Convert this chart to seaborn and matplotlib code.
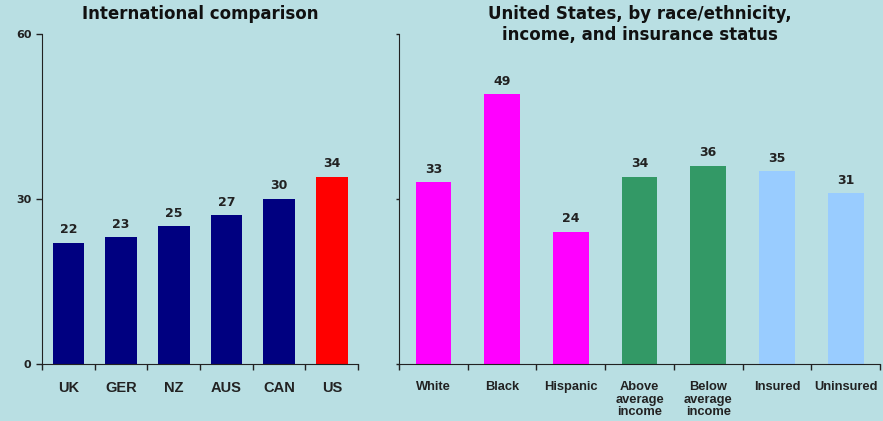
import pandas as pd
import seaborn as sns
import matplotlib.pyplot as plt

# data
intl_countries = ['UK', 'GER', 'NZ', 'AUS', 'CAN', 'US']
intl_values = [22, 23, 25, 27, 30, 34]
intl_colors = ['#000080', '#000080', '#000080', '#000080', '#000080', '#FF0000']

us_groups = ['White', 'Black', 'Hispanic', 'Above\naverage\nincome',
             'Below\naverage\nincome', 'Insured', 'Uninsured']
us_values = [33, 49, 24, 34, 36, 35, 31]
us_colors = ['#FF00FF', '#FF00FF', '#FF00FF', '#339966', '#339966', '#99CCFF', '#99CCFF']

y_ticks = [0, 30, 60]

bg = '#B9DFE3'
sns.set_style('ticks')
plt.rcParams['font.family'] = ['Liberation Sans', 'DejaVu Sans']
plt.rcParams['axes.edgecolor'] = '#222222'

fig = plt.figure(figsize=(8.83, 4.21), dpi=100, facecolor=bg)
ax1 = fig.add_axes([0.0476, 0.1354, 0.358, 0.784])
ax2 = fig.add_axes([0.4519, 0.1354, 0.5447, 0.784])


def draw_panel(ax, cats, vals, colors, width, label_size):
    df = pd.DataFrame({'cat': cats, 'val': vals})
    sns.barplot(data=df, x='cat', y='val', hue='cat', palette=colors,
                width=width, legend=False, saturation=1, ax=ax, linewidth=0)
    ax.set_facecolor(bg)
    ax.set_ylim(0, 60)
    ax.set_xlim(-0.5, len(cats) - 0.5)
    ax.set_yticks(y_ticks)
    ax.set_xlabel('')
    ax.set_ylabel('')
    ax.set_xticks(range(len(cats)))
    ax.set_xticklabels(cats, fontsize=label_size, fontweight='bold',
                       color='#222222', linespacing=1.1)
    ax.tick_params(axis='x', which='major', length=0, pad=12)
    ax.set_xticks([i - 0.5 for i in range(len(cats) + 1)], minor=True)
    ax.tick_params(axis='x', which='minor', length=4, width=1, color='#222222')
    ax.tick_params(axis='y', length=4, width=1, color='#222222')
    sns.despine(ax=ax)
    for i, v in enumerate(vals):
        ax.text(i, v + 1.2, str(v), ha='center', va='bottom',
                fontsize=9, fontweight='bold', color='#222222',
                family='DejaVu Sans')


draw_panel(ax1, intl_countries, intl_values, intl_colors, 0.6, 10.5)
ax1.set_yticklabels([str(t) for t in y_ticks], fontsize=8, fontweight='bold',
                    color='#222222', family='DejaVu Sans')

draw_panel(ax2, us_groups, us_values, us_colors, 0.52, 9.3)
ax2.set_yticklabels([])
ax2.tick_params(axis='y', length=2)

# titles
fig.text(0.2265, 0.967, 'International comparison', ha='center', va='center',
         fontsize=12, fontweight='bold', color='#111111', family='DejaVu Sans')
fig.text(0.7242, 0.942, 'United States, by race/ethnicity,\nincome, and insurance status',
         ha='center', va='center', fontsize=12, fontweight='bold', color='#111111',
         family='DejaVu Sans', linespacing=1.2)

fig.savefig('out.png', dpi=100, facecolor=bg)
